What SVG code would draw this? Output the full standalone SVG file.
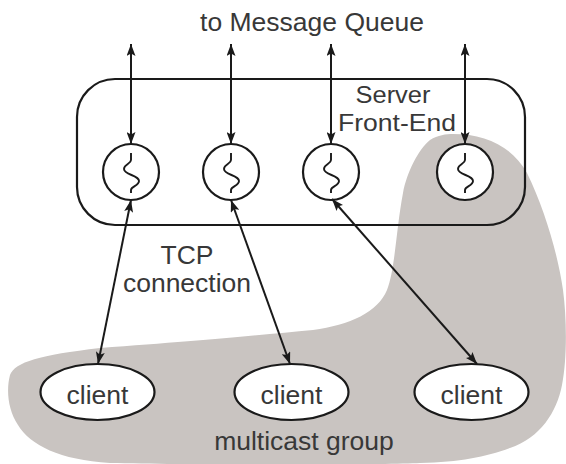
<svg xmlns="http://www.w3.org/2000/svg" width="566" height="464" viewBox="0 0 566 464">
<defs>
<style>
.lbl{font-family:"Liberation Sans",Arial,Helvetica,sans-serif;font-size:26.5px;fill:#383838;text-anchor:middle}
.shape{fill:#fff;stroke:#1a1a1a;stroke-width:2.2}
.wire{fill:none;stroke:#1a1a1a;stroke-width:1.9}
.conn{fill:none;stroke:#1a1a1a;stroke-width:2;marker-start:url(#ah);marker-end:url(#ah)}
</style>
<marker id="ah" markerUnits="userSpaceOnUse" markerWidth="13" markerHeight="9" refX="12" refY="4.5" orient="auto-start-reverse">
<path d="M0,0 L12,4.5 L0,9 L2.5,4.5 Z" fill="#1a1a1a"/>
</marker>
</defs>
<rect width="566" height="464" fill="#fff"/>
<g id="multicast-group">
<path d="M453,134 C485,134 512,146 527,173 C545,210 558,255 563,290 C567,320 567,360 562,385 C557,412 540,438 510,448 C485,457 460,462 420,463 C380,465 200,465 110,463 C60,460 30,445 18,425 C8,410 6,390 10,375 C15,362 40,355 100,348 C200,341 260,335 313,330 C350,325 378,312 387,290 C395,270 396,230 403,193 C407,172 418,150 430,140 C438,135 446,134 453,134 Z" fill="#c9c4c1"/>
<text class="lbl" x="304" y="450">multicast group</text>
</g>
<g id="server-front-end">
<rect class="shape" x="77" y="79" width="448" height="146" rx="38" ry="38" style="fill:none"/>
<text class="lbl" style="font-size:24.5px"><tspan x="393" y="102.5" textLength="75" lengthAdjust="spacingAndGlyphs">Server</tspan><tspan x="397" y="130.5" textLength="118" lengthAdjust="spacingAndGlyphs">Front-End</tspan></text>
</g>
<g id="title">
<text class="lbl" x="312" y="31">to Message Queue</text>
</g>
<g id="thread1">
<circle class="shape" cx="131" cy="172" r="28"/>
<path class="wire" d="M131,153 V160 C131,164 124,164 124,169 C124,175 139,175 139,181 C139,186 131,186 131,190 V193"/>
</g>
<g id="thread2">
<circle class="shape" cx="231" cy="172" r="28"/>
<path class="wire" d="M231,153 V160 C231,164 224,164 224,169 C224,175 239,175 239,181 C239,186 231,186 231,190 V193"/>
</g>
<g id="thread3">
<circle class="shape" cx="331" cy="172" r="28"/>
<path class="wire" d="M331,153 V160 C331,164 324,164 324,169 C324,175 339,175 339,181 C339,186 331,186 331,190 V193"/>
</g>
<g id="thread4">
<circle class="shape" cx="465" cy="172" r="28"/>
<path class="wire" d="M465,153 V160 C465,164 458,164 458,169 C458,175 473,175 473,181 C473,186 465,186 465,190 V193"/>
</g>
<g id="client1">
<ellipse class="shape" cx="97.5" cy="392" rx="57" ry="28"/>
<text class="lbl" x="97.5" y="404">client</text>
</g>
<g id="client2">
<ellipse class="shape" cx="291.5" cy="392" rx="57" ry="28"/>
<text class="lbl" x="291.5" y="404">client</text>
</g>
<g id="client3">
<ellipse class="shape" cx="471.5" cy="392" rx="57" ry="28"/>
<text class="lbl" x="471.5" y="404">client</text>
</g>
<g id="tcp-label">
<text class="lbl"><tspan x="187" y="264">TCP</tspan><tspan x="187" y="292">connection</tspan></text>
</g>
<g id="connectors">
<line class="conn" x1="131" y1="44" x2="131" y2="144"/>
<line class="conn" x1="231" y1="44" x2="231" y2="144"/>
<line class="conn" x1="331" y1="44" x2="331" y2="144"/>
<line class="conn" x1="465" y1="44" x2="465" y2="144"/>
<line class="conn" x1="131" y1="200" x2="98" y2="364"/>
<line class="conn" x1="231" y1="200" x2="290" y2="364"/>
<line class="conn" x1="332" y1="199" x2="477" y2="364"/>
</g>
</svg>
